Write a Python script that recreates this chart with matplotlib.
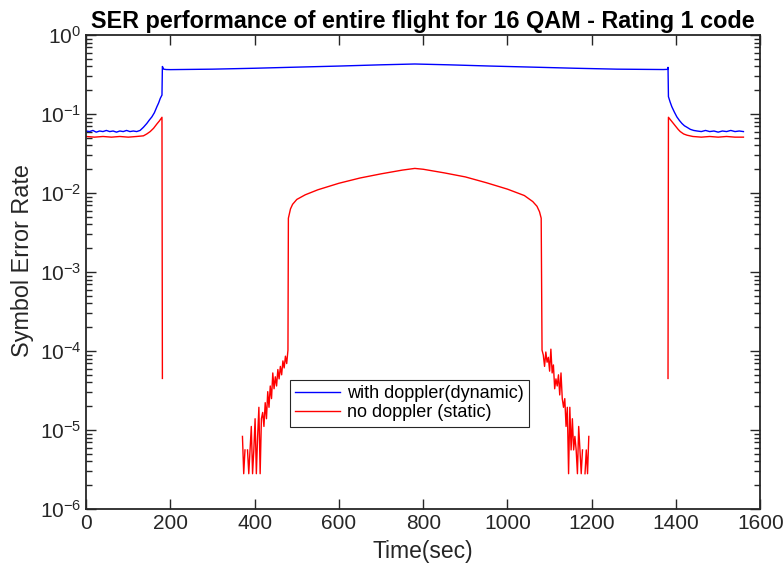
import numpy as np
import matplotlib.pyplot as plt
from matplotlib.ticker import NullFormatter

plt.rcParams['font.family'] = ['Liberation Sans', 'DejaVu Sans']

# ---------------- data ----------------
# blue: with doppler (dynamic)
blue_x = [0, 8, 16, 24, 32, 40, 48, 56, 64, 72, 80, 88, 96, 104, 112, 120, 128,
          136, 144, 150, 156, 162, 168, 172, 176, 180, 181, 184, 190, 200,
          300, 400, 480, 600, 700, 780, 860, 960, 1080, 1160, 1260, 1370, 1380,
          1381, 1382, 1386, 1390, 1396, 1402, 1408, 1414, 1420, 1426, 1434, 1442,
          1450, 1460, 1470, 1480, 1490, 1500, 1510, 1520, 1530, 1540, 1550, 1560]
blue_y = [0.061, 0.060, 0.062, 0.059, 0.061, 0.060, 0.062, 0.060, 0.061, 0.059, 0.061,
          0.060, 0.062, 0.060, 0.061, 0.060, 0.062,
          0.068, 0.076, 0.084, 0.092, 0.104, 0.124, 0.138, 0.158, 0.174, 0.40, 0.37, 0.366, 0.365,
          0.370, 0.380, 0.390, 0.405, 0.420, 0.430, 0.420, 0.405, 0.390, 0.380, 0.370, 0.366, 0.368,
          0.39, 0.166, 0.142, 0.124, 0.106, 0.092, 0.083, 0.076, 0.071, 0.068, 0.064, 0.062,
          0.061, 0.060, 0.062, 0.060, 0.061, 0.059, 0.061, 0.060, 0.062, 0.060, 0.061, 0.060]

# red: no doppler (static), separate pieces (zero SER is not drawn on log axis)
red_left_x = [0, 20, 40, 60, 80, 100, 120, 136, 144, 152, 160, 168, 174, 180, 181]
red_left_y = [0.052, 0.051, 0.052, 0.051, 0.052, 0.051, 0.052, 0.053, 0.056, 0.060,
              0.066, 0.075, 0.082, 0.091, 4.5e-5]

noise_left_x = [371, 374, 377, 380, 383, 386, 389, 392, 395, 398, 401, 404, 407, 410,
                413, 416, 419, 422, 425, 428, 431, 434, 437, 440, 443, 446, 449, 452,
                455, 458, 461, 464, 467, 470, 473, 476, 479]
noise_left_y = [8.3e-6, 2.8e-6, 5.6e-6, np.nan, 5.6e-6, 2.8e-6, 5.6e-6, 1.11e-5, 2.8e-6,
                5.6e-6, 1.39e-5, 2.8e-6, 8.3e-6, 1.94e-5, 2.8e-6, 1.39e-5, 1.67e-5, 1.11e-5,
                2.22e-5, 1.39e-5, 3.06e-5, 1.94e-5, 3.61e-5, 2.5e-5, 5.28e-5, 3.33e-5,
                4.72e-5, 3.61e-5, 5.83e-5, 4.44e-5, 6.39e-5, 5.0e-5, 7.5e-5, 6.11e-5,
                8.61e-5, 6.94e-5, 1.028e-4]

center_x = [480, 485, 490, 500, 520, 550, 600, 650, 700, 750, 780, 800, 850, 900,
            950, 1000, 1040, 1060, 1070, 1076, 1080]
center_y = [4.8e-3, 6.3e-3, 7.2e-3, 8.3e-3, 9.5e-3, 1.1e-2, 1.33e-2, 1.55e-2, 1.75e-2,
            1.95e-2, 2.05e-2, 2.0e-2, 1.8e-2, 1.6e-2, 1.35e-2, 1.12e-2, 9.3e-3, 7.8e-3,
            6.8e-3, 5.8e-3, 4.8e-3]

noise_right_x = [1082, 1085, 1088, 1091, 1094, 1097, 1100, 1103, 1106, 1109, 1112, 1115,
                 1118, 1121, 1124, 1127, 1130, 1133, 1136, 1139, 1142, 1145, 1148, 1151,
                 1154, 1157, 1160, 1163, 1166, 1169, 1172, 1175, 1178, 1181, 1184, 1187,
                 1190, 1193]
noise_right_y = [1.028e-4, 8.89e-5, 6.39e-5, 9.72e-5, 7.22e-5, 8.33e-5, 5.56e-5, 1.056e-4,
                 5.28e-5, 6.67e-5, 3.33e-5, 4.44e-5, 3.61e-5, 5.0e-5, 2.78e-5, 5.28e-5,
                 2.5e-5, 1.94e-5, 2.5e-5, 1.11e-5, 1.94e-5, 2.8e-6, 1.94e-5, 5.6e-6,
                 1.39e-5, 5.6e-6, 8.3e-6, 5.6e-6, 2.8e-6, 1.11e-5, 5.6e-6, 2.8e-6,
                 5.6e-6, np.nan, 2.8e-6, 5.6e-6, 2.8e-6, 8.3e-6]

red_right_x = [1381, 1382, 1388, 1394, 1400, 1405, 1410, 1418, 1426, 1440, 1460, 1480,
               1500, 1520, 1540, 1560]
red_right_y = [4.5e-5, 0.091, 0.083, 0.076, 0.069, 0.064, 0.060, 0.056, 0.054, 0.052,
               0.051, 0.052, 0.051, 0.052, 0.051, 0.051]

# join red pieces with gaps
red_x = (red_left_x + [np.nan] + noise_left_x + center_x + noise_right_x
         + [np.nan] + red_right_x)
red_y = (red_left_y + [np.nan] + noise_left_y + center_y + noise_right_y
         + [np.nan] + red_right_y)

# ---------------- plot ----------------
fig = plt.figure(figsize=(7.83, 5.69), dpi=100)
ax = fig.add_axes([0.110, 0.1054, 0.861, 0.833])

ax.semilogy(blue_x, blue_y, color='#0000ff', lw=1.0, label='with doppler(dynamic)')
ax.semilogy(red_x, red_y, color='#ff0000', lw=1.0, label='no doppler (static)')

ax.set_xlim(0, 1600)
ax.set_ylim(1e-6, 1e0)
ax.set_xticks(range(0, 1601, 200))
ax.yaxis.set_minor_formatter(NullFormatter())

dark = '#262626'
for s in ax.spines.values():
    s.set_color(dark)
    s.set_linewidth(1.3)
ax.tick_params(which='both', direction='in', top=True, right=True, colors=dark,
               labelsize=15, width=1.0)
ax.tick_params(which='major', length=7)
ax.tick_params(which='minor', length=4)

ax.set_title('SER performance of entire flight for 16 QAM - Rating 1 code',
             fontsize=16.8, fontweight='bold', pad=5)
ax.set_xlabel('Time(sec)', fontsize=16.5, color=dark, labelpad=5)
ax.set_ylabel('Symbol Error Rate', fontsize=16.8, color=dark, labelpad=3)
ax.yaxis.set_label_coords(-0.077, 0.525)

leg = ax.legend(loc='upper left', bbox_to_anchor=(0.302, 0.273), fontsize=13,
                fancybox=False, edgecolor=dark, framealpha=1, handlelength=2.5,
                borderpad=0.3, labelspacing=0.12, handletextpad=0.35, borderaxespad=0)
leg.get_frame().set_linewidth(0.8)

fig.savefig('out.png', dpi=100)
